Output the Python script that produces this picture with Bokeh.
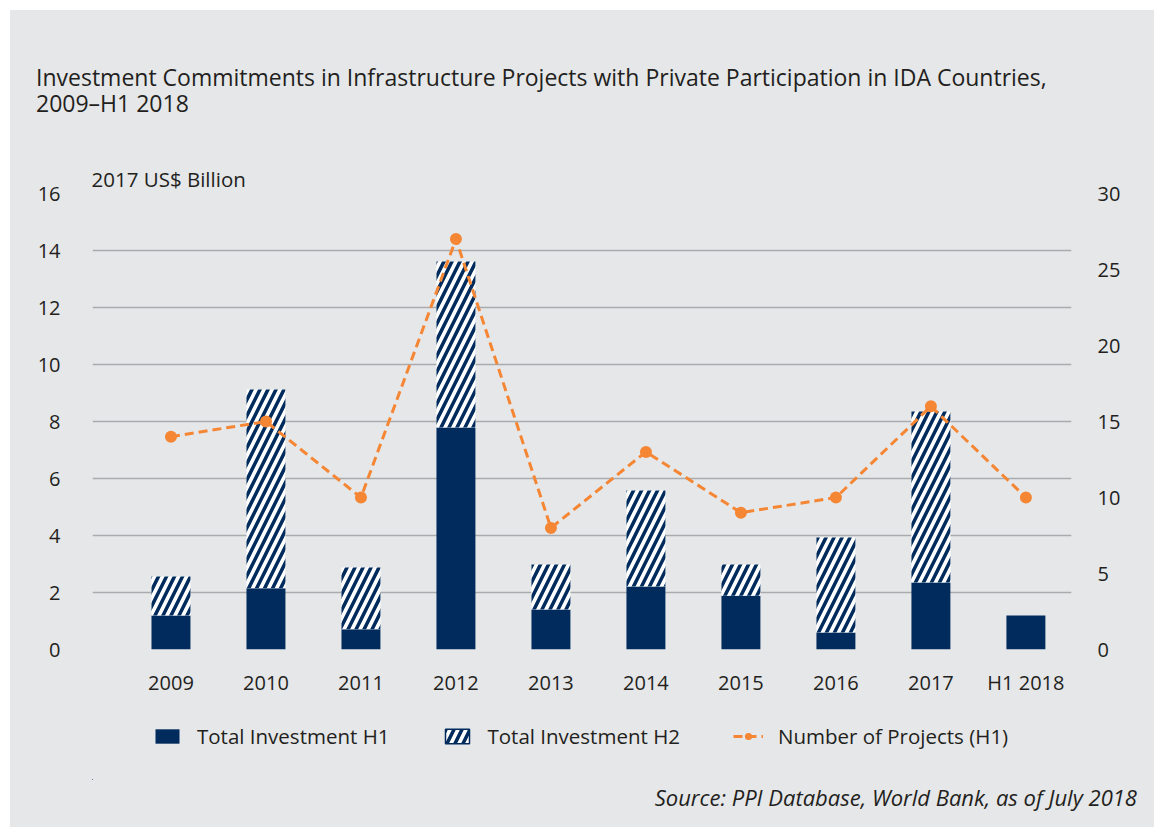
from bokeh.plotting import figure
from bokeh.layouts import column
from bokeh.models import (Range1d, LinearAxis, FixedTicker, Legend, Title, Div,
                          LegendItem, ColumnDataSource)
from bokeh.embed import file_html
from bokeh.resources import INLINE

# ---------------- data ----------------
categories = ["2009", "2010", "2011", "2012", "2013", "2014", "2015", "2016", "2017", "H1 2018"]
invest_h1 = [1.19, 2.15, 0.71, 7.79, 1.40, 2.21, 1.89, 0.60, 2.35, 1.19]
invest_h2 = [1.37, 6.97, 2.17, 5.82, 1.58, 3.37, 1.09, 3.33, 6.00, 0.00]
projects_h1 = [14, 15, 10, 27, 8, 13, 9, 10, 16, 10]
left_ticks = [0, 2, 4, 6, 8, 10, 12, 14, 16]
right_ticks = [0, 5, 10, 15, 20, 25, 30]

TITLE1 = "Investment Commitments in Infrastructure Projects with Private Participation in IDA Countries,"
TITLE2 = "2009\u2013H1 2018"
UNIT = "2017 US$ Billion"
SOURCE = "Source: PPI Database, World Bank, as of July 2018"

NAVY = "#002b5c"
ORANGE = "#f58634"
BG = "#e6e7e9"
GRID = "#a9abae"
TXT = "#231f20"
FONT = "Open Sans"
W = 1144

# ---------------- title block ----------------
line_css = (f"font-family:'{FONT}';font-size:23px;line-height:26px;height:26px;"
            f"color:{TXT};white-space:nowrap;overflow:visible;")
title_div = Div(
    text=(f'<div style="padding:54px 0 0 26px;">'
          f'<div style="{line_css}">{TITLE1}</div>'
          f'<div style="{line_css}">{TITLE2}</div></div>'),
    width=W, height=149, margin=0, styles={"background-color": BG})

# ---------------- main chart ----------------
xs = list(range(len(categories)))
totals = [a + b for a, b in zip(invest_h1, invest_h2)]
src = ColumnDataSource(dict(x=xs, h1=invest_h1, total=totals, proj=projects_h1))

XMIN, XMAX = -0.826, 9.48
p = figure(width=W, height=541, output_backend="svg", toolbar_location=None,
           x_range=Range1d(XMIN, XMAX), y_range=Range1d(0, 16),
           min_border_left=82, min_border_right=83, min_border_top=34,
           min_border_bottom=51, margin=0)
p.extra_y_ranges = {"right": Range1d(0, 30)}
p.background_fill_color = BG
p.border_fill_color = BG
p.outline_line_color = None

p.xaxis.ticker = FixedTicker(ticks=xs)
p.xaxis.major_label_overrides = {i: c for i, c in enumerate(categories)}
p.yaxis.ticker = FixedTicker(ticks=left_ticks)
raxis = LinearAxis(y_range_name="right", ticker=FixedTicker(ticks=right_ticks))
p.add_layout(raxis, "right")
for ax in [p.xaxis[0], p.yaxis[0], raxis]:
    ax.axis_line_color = None
    ax.major_tick_line_color = None
    ax.minor_tick_line_color = None
    ax.major_label_text_font = FONT
    ax.major_label_text_font_size = "20px"
    ax.major_label_text_color = TXT
p.xaxis.major_label_standoff = 13
p.yaxis.major_label_standoff = 26
raxis.major_label_standoff = 20

p.xgrid.grid_line_color = None
p.ygrid.grid_line_color = GRID
p.ygrid.grid_line_width = 1.6

p.add_layout(Title(text=UNIT, align="left", offset=-1, standoff=1,
                   text_font=FONT, text_font_size="20.5px", text_color=TXT,
                   text_font_style="normal"), "above")

BAR_H1 = dict(fill_color=NAVY, line_color=None)
BAR_H2 = dict(fill_color="white", line_color=None, hatch_pattern="/",
              hatch_color=NAVY, hatch_scale=16, hatch_weight=3.5)
LINE_STYLE = dict(line_color=ORANGE, line_width=3, line_dash="9 5")
PT_STYLE = dict(size=12, fill_color=ORANGE, line_color=None)

p.vbar(x="x", top="h1", bottom=0, width=0.41, source=src, **BAR_H1)
p.vbar(x="x", top="total", bottom="h1", width=0.41, source=src, **BAR_H2)
p.line(x="x", y="proj", source=src, y_range_name="right", **LINE_STYLE)
p.scatter(x="x", y="proj", source=src, y_range_name="right", **PT_STYLE)

# ---------------- legend block (same series, kept outside its own view) ----------------
p_bot = figure(width=W, height=80, output_backend="svg", toolbar_location=None,
               x_range=Range1d(50, 51), y_range=Range1d(50, 51),
               min_border_left=82, min_border_right=83, min_border_top=0,
               min_border_bottom=0, margin=0)
p_bot.axis.visible = False
p_bot.grid.visible = False
p_bot.background_fill_alpha = 0
p_bot.border_fill_color = BG
p_bot.outline_line_color = None
k1 = p_bot.vbar(x="x", top="h1", bottom=0, width=0.41, source=src, **BAR_H1)
k2 = p_bot.vbar(x="x", top="total", bottom="h1", width=0.41, source=src,
                **dict(BAR_H2, line_color=NAVY, line_width=1.5))
k3 = p_bot.line(x="x", y="proj", source=src, **LINE_STYLE)
k4 = p_bot.scatter(x="x", y="proj", source=src, **PT_STYLE)

legend = Legend(items=[
    LegendItem(label="Total Investment H1", renderers=[k1]),
    LegendItem(label="Total Investment H2", renderers=[k2]),
    LegendItem(label="Number of Projects (H1)", renderers=[k3, k4]),
], location=(60, 30), orientation="horizontal")
legend.background_fill_alpha = 0
legend.border_line_color = None
legend.padding = 0
legend.margin = 0
legend.spacing = 53
legend.glyph_width = 30
legend.glyph_height = 18
legend.label_height = 18
legend.label_standoff = 15
legend.label_text_font = FONT
legend.label_text_font_size = "20.5px"
legend.label_text_color = TXT
p_bot.add_layout(legend)

source_div = Div(
    text=(f'<div style="font-family:\'{FONT}\';font-size:22px;line-height:24px;'
          f'font-style:italic;color:{TXT};text-align:right;width:{W - 17}px;'
          f'padding-top:5px;white-space:nowrap;">{SOURCE}</div>'),
    width=W, height=47, margin=0, styles={"background-color": BG})

layout = column(title_div, p, p_bot, source_div, spacing=0, margin=(10, 0, 0, 10),
                styles={"background-color": BG})
open("out.html", "w").write(file_html(layout, INLINE))
